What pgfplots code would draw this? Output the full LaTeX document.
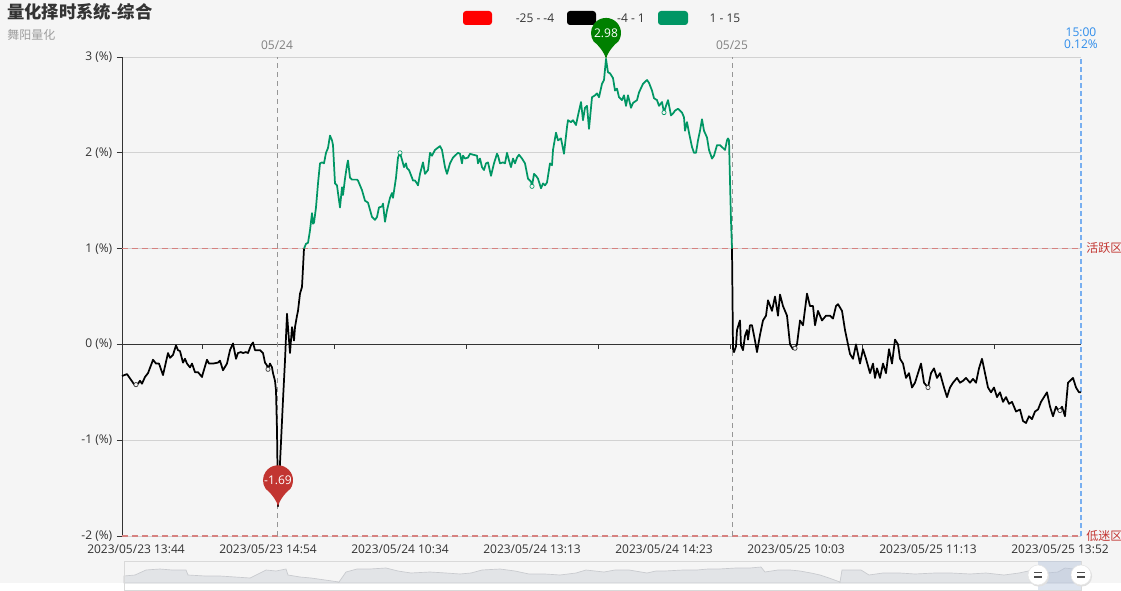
\documentclass[border=0pt]{standalone}
\usepackage{pgfplots}
\usepackage{pgfplotstable}
\pgfplotsset{compat=1.18}
\usepackage{fontspec}
\setmainfont{Open Sans}
\newfontfamily\cjk{Noto Sans CJK SC}
\definecolor{bg}{RGB}{245,245,245}
\definecolor{txt}{RGB}{51,51,51}
\definecolor{gl}{RGB}{0,150,100}
\definecolor{mred}{RGB}{194,53,49}
\definecolor{mline}{RGB}{214,130,128}
\definecolor{pgreen}{RGB}{0,128,0}
\definecolor{gridc}{RGB}{210,210,210}
\definecolor{vline}{RGB}{150,150,150}
\definecolor{bline}{RGB}{120,175,240}
\definecolor{btxt}{RGB}{45,140,235}
\definecolor{shf}{RGB}{226,228,231}
\definecolor{shl}{RGB}{200,202,206}
\definecolor{sel}{RGB}{180,195,220}

\pgfdeclareplotmark{pin}{%
  \pgfpathmoveto{\pgfpoint{0pt}{0pt}}%
  \pgfpathcurveto{\pgfpoint{0.6pt}{3pt}}{\pgfpoint{4pt}{9pt}}{\pgfpoint{9.19pt}{13.01pt}}%
  \pgfpatharc{-35.2}{215.2}{11.25pt}%
  \pgfpathcurveto{\pgfpoint{-4pt}{9pt}}{\pgfpoint{-0.6pt}{3pt}}{\pgfpoint{0pt}{0pt}}%
  \pgfpathclose
  \pgfusepathqfill
}

\pgfplotstableread{
x y
122 -0.33
127 -0.31
135 -0.43
138 -0.41
140 -0.38
142 -0.41
145 -0.34
148 -0.30
152 -0.19
153 -0.16
156 -0.20
159 -0.20
163 -0.32
168 -0.09
170 -0.14
173 -0.11
176 -0.01
178 -0.06
180 -0.07
183 -0.19
185 -0.15
187 -0.20
190 -0.24
192 -0.20
195 -0.29
198 -0.29
202 -0.34
203 -0.30
207 -0.16
209 -0.20
213 -0.20
218 -0.19
220 -0.17
223 -0.27
227 -0.20
230 -0.06
233 0.01
236 -0.15
238 -0.09
241 -0.08
243 -0.09
246 -0.08
248 -0.09
251 -0.01
253 0.02
255 -0.06
257 -0.06
260 -0.06
263 -0.09
265 -0.19
267 -0.22
268 -0.26
270 -0.20
272 -0.24
273 -0.30
275 -0.38
276 -0.48
277 -0.90
278 -1.69
280 -1.24
283 -0.58
285 -0.17
287 0.32
288 0.18
290 -0.09
292 0.18
293 0.11
294 0.04
295 0.18
297 0.30
298 0.35
300 0.53
302 0.60
303 0.80
304 1.00
}\blackA

\pgfplotstableread{
x y
304 1.00
306 1.05
308 1.06
310 1.19
312 1.37
313 1.26
314 1.27
316 1.43
318 1.68
320 1.89
322 1.90
324 1.89
326 2.00
328 2.05
330 2.18
332 2.13
333 2.08
335 1.68
337 1.66
338 1.58
340 1.43
342 1.64
343 1.56
345 1.73
347 1.87
348 1.92
350 1.74
352 1.72
357 1.72
358 1.71
362 1.61
365 1.50
368 1.48
372 1.33
375 1.30
377 1.33
379 1.43
382 1.44
383 1.47
385 1.28
387 1.40
390 1.53
392 1.58
393 1.53
396 1.74
398 1.95
400 2.00
403 1.89
404 1.85
406 1.89
407 1.84
409 1.82
412 1.74
413 1.71
415 1.71
417 1.68
418 1.66
420 1.78
423 1.90
425 1.78
428 1.82
430 2.00
432 1.97
435 2.03
440 2.07
442 2.03
445 1.85
447 1.78
450 1.89
453 1.95
458 2.00
460 1.99
462 1.89
463 1.97
465 1.94
468 1.95
470 1.99
473 1.98
477 1.97
478 1.89
480 1.94
482 1.85
484 1.82
486 1.89
488 1.90
491 1.76
494 1.89
497 1.99
498 1.97
500 1.89
503 1.90
505 1.89
507 2.00
509 1.92
511 1.85
513 1.94
515 1.89
517 1.95
519 1.98
522 1.94
525 1.89
528 1.73
531 1.70
532 1.65
534 1.78
536 1.76
538 1.73
541 1.63
543 1.68
545 1.66
547 1.69
550 1.89
552 1.87
553 2.03
556 2.21
558 2.13
561 2.15
564 1.99
567 2.27
568 2.34
571 2.32
573 2.34
576 2.29
578 2.39
581 2.53
583 2.34
585 2.47
587 2.49
589 2.25
592 2.58
595 2.60
597 2.62
599 2.58
602 2.72
604 2.76
606 2.98
608 2.84
610 2.83
613 2.78
615 2.65
617 2.67
619 2.58
622 2.55
624 2.60
626 2.49
628 2.60
631 2.47
633 2.52
637 2.55
639 2.63
643 2.72
647 2.76
649 2.73
652 2.65
654 2.57
657 2.55
659 2.49
662 2.53
664 2.42
666 2.49
668 2.55
671 2.39
673 2.41
675 2.44
678 2.46
682 2.42
684 2.37
685 2.23
687 2.32
689 2.21
692 2.06
694 2.00
696 2.00
698 2.13
700 2.23
702 2.35
704 2.23
707 2.16
709 2.03
712 1.94
714 1.97
717 2.08
720 2.08
723 2.05
725 2.03
727 2.13
728 2.15
729 2.13
731 1.29
732 1.00
}\greenA

\pgfplotstableread{
x y
732 1.00
733 -0.05
734 -0.08
736 -0.02
737 0.15
739 0.22
740 0.25
741 -0.01
743 -0.06
745 0.09
747 0.15
748 0.05
750 0.20
752 0.20
755 0.04
757 -0.08
760 0.10
763 0.25
766 0.30
768 0.46
772 0.35
775 0.50
778 0.30
780 0.52
783 0.40
787 0.30
790 0.00
793 -0.05
795 -0.04
797 0.00
800 0.25
803 0.20
807 0.53
810 0.40
813 0.40
815 0.20
818 0.35
822 0.25
826 0.30
830 0.30
833 0.27
836 0.40
838 0.42
842 0.35
845 0.15
848 0.00
850 -0.10
853 -0.15
856 0.00
858 -0.10
860 -0.20
863 -0.05
866 -0.15
870 -0.30
873 -0.20
875 -0.35
877 -0.25
880 -0.35
883 -0.20
886 -0.30
889 -0.05
892 -0.20
895 0.05
898 0.00
900 -0.15
903 -0.20
906 -0.35
909 -0.30
912 -0.45
915 -0.40
918 -0.30
921 -0.20
924 -0.40
928 -0.45
931 -0.30
934 -0.25
937 -0.35
940 -0.30
944 -0.45
947 -0.55
950 -0.45
953 -0.40
957 -0.35
960 -0.40
963 -0.38
966 -0.35
970 -0.40
973 -0.36
976 -0.40
979 -0.25
982 -0.15
985 -0.30
988 -0.45
991 -0.50
994 -0.45
997 -0.55
1000 -0.50
1003 -0.60
1006 -0.55
1009 -0.62
1012 -0.60
1016 -0.70
1020 -0.68
1023 -0.80
1026 -0.82
1029 -0.75
1032 -0.78
1035 -0.70
1038 -0.68
1041 -0.60
1044 -0.55
1047 -0.50
1050 -0.65
1053 -0.75
1056 -0.65
1059 -0.70
1062 -0.65
1065 -0.75
1068 -0.40
1070 -0.38
1073 -0.35
1076 -0.45
1079 -0.50
1081 -0.50
}\blackB

\pgfplotstableread{
x h
124 7
135 8
146 13
160 14
172 13
186 13
188 8
205 7
220 7
235 6
250 5
266 13
276 12
286 14
288 8
300 6
311 5
325 3
339 1
346 11
357 14
370 14
386 15
398 12
411 10
430 11
446 10
460 9
471 10
482 13
500 14
515 12
529 9
545 9
560 8
576 10
586 13
595 12
604 11
615 13
629 13
647 10
656 12
665 12
683 13
697 13
708 14
719 14
736 15
750 15
761 16
765 11
778 13
790 13
800 12
811 10
820 8
829 5
840 1
842 13
861 13
869 8
883 10
900 10
915 9
935 10
951 10
970 9
986 10
1004 8
1019 10
1033 13
1047 10
1058 11
1065 15
1081 13
}\shadow

\begin{document}
\begin{tikzpicture}[px/.style={x=0.75pt,y=-0.75pt,shift={(-122,-536)}}]
\begin{scope}[px]
\path[use as bounding box, fill=bg] (0,0) rectangle (1121,583);
\node[anchor=west, inner sep=0pt, font=\cjk\bfseries\fontsize{13}{15}\selectfont, text=txt] at (7,12) {量化择时系统-综合};
\node[anchor=west, inner sep=0pt, font=\cjk\fontsize{9}{10}\selectfont, text=black!38] at (7,35) {舞阳量化};
\fill[red, rounded corners=2.25pt] (463,11) rectangle (492,25);
\node[font=\fontsize{9}{10}\selectfont, text=txt] at (535,18) {-25 - -4};
\fill[black, rounded corners=2.25pt] (567,11) rectangle (596,25);
\node[font=\fontsize{9}{10}\selectfont, text=txt] at (631,18) {-4 - 1};
\fill[gl, rounded corners=2.25pt] (658,11) rectangle (688,25);
\node[font=\fontsize{9}{10}\selectfont, text=txt] at (725,18) {1 - 15};
\node[font=\fontsize{9}{10}\selectfont, text=black!50] at (277,45) {05/24};
\node[font=\fontsize{9}{10}\selectfont, text=black!50] at (732,45) {05/25};
\node[font=\fontsize{9}{10}\selectfont, text=btxt] at (1081,32) {15:00};
\node[font=\fontsize{9}{10}\selectfont, text=btxt] at (1081,44) {0.12\%};
\node[anchor=west, inner sep=0pt, font=\cjk\fontsize{9}{10}\selectfont, text=mred] at (1086,248) {活跃区};
\node[anchor=west, inner sep=0pt, font=\cjk\fontsize{9}{10}\selectfont, text=mred] at (1086,536) {低迷区};
\end{scope}

\begin{axis}[
  scale only axis, width=719.25pt, height=359.25pt,
  xmin=122, xmax=1081, ymin=-2, ymax=3,
  clip=false,
  axis y line*=left, axis x line*=bottom,
  x axis line style={draw=none},
  y axis line style={txt, line width=0.6pt, -},
  xtick={136,268,400,532,664,796,928,1060},
  xticklabels={2023/05/23 13:44,2023/05/23 14:54,2023/05/24 10:34,2023/05/24 13:13,2023/05/24 14:23,2023/05/25 10:03,2023/05/25 11:13,2023/05/25 13:52},
  ytick={-2,-1,0,1,2,3},
  yticklabels={-2 (\%),-1 (\%),0 (\%),1 (\%),2 (\%),3 (\%)},
  ymajorgrids, grid style={gridc, line width=0.6pt},
  xtick style={draw=none},
  ytick style={txt, line width=0.6pt},
  tick align=outside, major tick length=3.75pt,
  ticklabel style={font=\fontsize{9}{10}\selectfont, text=txt},
  xticklabel style={yshift=1pt},
]
\draw[mline, dash pattern=on 4.5pt off 3pt, line width=0.8pt] (axis cs:122,1) -- (axis cs:1081,1);
\draw[mline, dash pattern=on 4.5pt off 3pt, line width=0.8pt] (axis cs:122,-2) -- (axis cs:1081,-2);
\draw[txt, line width=0.6pt] (axis cs:122,0) -- (axis cs:1081,0);
\draw[txt, line width=0.6pt] (axis cs:202,0) -- ++(0pt,-3.75pt) (axis cs:334,0) -- ++(0pt,-3.75pt) (axis cs:466,0) -- ++(0pt,-3.75pt) (axis cs:598,0) -- ++(0pt,-3.75pt) (axis cs:730,0) -- ++(0pt,-3.75pt) (axis cs:862,0) -- ++(0pt,-3.75pt) (axis cs:994,0) -- ++(0pt,-3.75pt);
\draw[vline, dash pattern=on 3.75pt off 3pt, line width=0.75pt] (axis cs:277,-2) -- (axis cs:277,3);
\draw[vline, dash pattern=on 3.75pt off 3pt, line width=0.75pt] (axis cs:732,-2) -- (axis cs:732,3);
\draw[bline, dash pattern=on 3.75pt off 2.25pt, line width=1.1pt] (axis cs:1081,-2) -- (axis cs:1081,3);

\addplot[black, line width=1.3pt, line join=round, no marks] table {\blackA};
\addplot[gl, line width=1.3pt, line join=round, no marks] table {\greenA};
\addplot[black, line width=1.3pt, line join=round, no marks] table {\blackB};

\addplot[only marks, mark=*, mark size=1.6pt, mark options={fill=bg, draw=black!80, line width=0.5pt}] coordinates {(136,-0.42) (268,-0.26) (795,-0.04) (928,-0.45) (1060,-0.69)};
\addplot[only marks, mark=*, mark size=1.6pt, mark options={fill=bg, draw=gl, line width=0.5pt}] coordinates {(400,2.00) (532,1.65) (664,2.42)};

\addplot[only marks, mark=pin, mark options={fill=pgreen}, point meta=explicit symbolic,
  nodes near coords, nodes near coords align={anchor=center},
  every node near coord/.append style={anchor=center, yshift=19.5pt, text=white, font=\fontsize{9}{10}\selectfont}]
  coordinates {(606,2.98) [2.98]};
\addplot[only marks, mark=pin, mark options={fill=mred}, point meta=explicit symbolic,
  nodes near coords, nodes near coords align={anchor=center},
  every node near coord/.append style={anchor=center, yshift=19.5pt, text=white, font=\fontsize{9}{10}\selectfont}]
  coordinates {(278,-1.69) [-1.69]};
\end{axis}

\begin{axis}[at={(1.5pt,-18.75pt)}, anchor=north west, scale only axis,
  width=717.75pt, height=16.5pt, xmin=124, xmax=1081, ymin=0, ymax=22,
  hide axis, clip=false]
\addplot[fill=shf, draw=shl, line width=0.5pt] table[x=x, y=h] {\shadow} \closedcycle;
\end{axis}

\begin{scope}[px]
\draw[black!15, line width=0.6pt] (124,561) rectangle (1081,590);
\fill[sel, opacity=0.45] (1038,561) rectangle (1081,590);
\foreach \hx in {1038,1081} {
  \fill[black!12] (\hx+0.7,576.2) circle[radius=7.8pt];
  \filldraw[fill=white, draw=black!10] (\hx,575) circle[radius=7.5pt];
  \draw[black!70, line width=0.8pt] (\hx-4,572.5) -- (\hx+4,572.5) (\hx-4,577) -- (\hx+4,577);
}
\end{scope}
\end{tikzpicture}
\end{document}
